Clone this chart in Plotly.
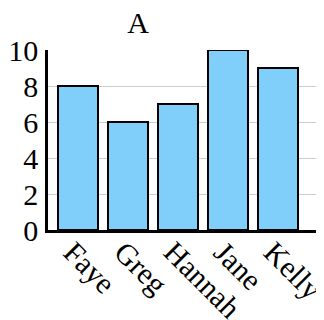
import plotly.graph_objects as go

names = ["Faye", "Greg", "Hannah", "Jane", "Kelly"]
values = [8, 6, 7, 10, 9]
y_ticks = [0, 2, 4, 6, 8, 10]

# page body has an 8px margin; figure coords = screen coords - 8
fig = go.Figure(go.Bar(
    x=names, y=values,
    marker=dict(color="#80cffa", line=dict(color="black", width=2)),
    width=0.8,
))

font = dict(family="'Liberation Serif', 'Times New Roman', serif", size=30, color="black")

for n in names:
    fig.add_annotation(
        x=n, y=0, xref="x", yref="y", text=n, showarrow=False,
        textangle=45, xanchor="left", yanchor="top",
        xshift=-23, yshift=-2, font=font,
    )

fig.update_layout(
    width=324, height=320,
    margin=dict(l=40, r=8, t=42, b=98),
    plot_bgcolor="white", paper_bgcolor="white",
    font=font,
    showlegend=False,
    title=dict(text="A", x=130/324, xanchor="center", xref="container",
               y=1 - 14/320, yanchor="middle", yref="container",
               font=font),
)
fig.update_xaxes(
    range=[-0.6, 4.92], showline=True, linecolor="black", linewidth=2.5,
    ticks="", showgrid=False, showticklabels=False, automargin=False,
)
fig.update_yaxes(
    range=[0, 10], tickvals=y_ticks, showline=True, linecolor="black", linewidth=2.5,
    showgrid=True, gridcolor="#cccccc", gridwidth=1, ticks="", tickfont=font,
    zeroline=False, ticklabelstandoff=1, automargin=False,
)
fig.write_html("out.html")
